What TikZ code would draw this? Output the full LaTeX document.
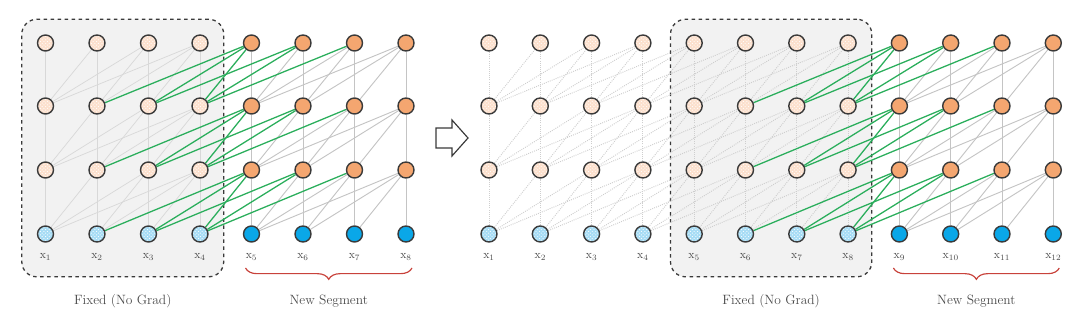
\documentclass[tikz,border=0pt]{standalone}
\usetikzlibrary{backgrounds,fit,positioning,calc,patterns,decorations.pathreplacing}
\definecolor{memfill}{HTML}{FCE0CD}
\definecolor{hidfill}{HTML}{F4A670}
\definecolor{oldtokfill}{HTML}{A6DCF5}
\definecolor{tokfill}{HTML}{0AA7E8}
\definecolor{nodeline}{HTML}{3A3A3A}
\definecolor{gradgreen}{HTML}{2BAE5C}
\definecolor{linkgray}{HTML}{C4C4C4}
\definecolor{fixedgray}{HTML}{D8D8D8}
\definecolor{pastgray}{HTML}{CECECE}
\definecolor{boxfill}{HTML}{F2F2F2}
\definecolor{bracered}{HTML}{C8423B}
\definecolor{labelgray}{HTML}{4A4A4A}
\pgfdeclarelayer{boxes}
\pgfdeclarelayer{edges}
\pgfsetlayers{boxes,edges,main}
\tikzset{
  unit/.style={circle, draw=nodeline, line width=1.2pt, minimum size=4.8mm, inner sep=0pt},
  hid/.style={unit, fill=hidfill},
  mem/.style={unit, preaction={fill=memfill}, pattern=crosshatch dots, pattern color=white},
  tok/.style={unit, fill=tokfill},
  oldtok/.style={unit, preaction={fill=oldtokfill}, pattern=crosshatch dots, pattern color=white},
  tokenlabel/.style={inner sep=1pt, text=labelgray, font=\normalsize},
  caption/.style={inner sep=0pt, text=labelgray, font=\fontsize{11.5}{13}\selectfont},
  link/.style={draw=linkgray, line width=0.8pt},
  fixedlink/.style={draw=fixedgray, line width=0.6pt},
  pastlink/.style={draw=pastgray, line width=0.8pt, densely dotted},
  gradlink/.style={draw=gradgreen, line width=1.1pt},
  segbox/.style={draw=nodeline, fill=boxfill, line width=1.1pt, dashed, rounded corners=4.5mm, inner sep=4.5mm},
  brace/.style={draw=bracered, line width=1pt, decorate, decoration={brace, mirror, amplitude=3.4mm}},
  shiftarrow/.style={draw=nodeline, fill=white, line width=1pt, line join=miter}
}

\begin{document}
\begin{tikzpicture}[x=0.3mm, y=0.3mm]
  \useasboundingbox (0,0) rectangle (1080,321);

  % left panel: first step, x1..x4 cached
  \foreach \c in {1,...,8} {
    \pgfmathsetmacro\px{45.5+(\c-1)*51.5}
    \ifnum\c<5 \def\hs{mem}\def\ts{oldtok}\else \def\hs{hid}\def\ts{tok}\fi
    \node[\ts] (L-0-\c) at (\px,87) {};
    \foreach \r/\py in {1/151,2/215,3/278}
      \node[\hs] (L-\r-\c) at (\px,\py) {};
    \node[tokenlabel] (Lx-\c) at (\px,64) {x$_{\c}$};
  }

  % right panel: next step, x5..x8 cached
  \foreach \c in {1,...,12} {
    \pgfmathsetmacro\px{489+(\c-1)*51.3}
    \ifnum\c<9 \def\hs{mem}\def\ts{oldtok}\else \def\hs{hid}\def\ts{tok}\fi
    \node[\ts] (R-0-\c) at (\px,87) {};
    \foreach \r/\py in {1/151,2/215,3/278}
      \node[\hs] (R-\r-\c) at (\px,\py) {};
    \node[tokenlabel] (Rx-\c) at (\px,64) {x$_{\c}$};
  }

  \begin{pgfonlayer}{edges}
    % left panel links
    \foreach \r in {1,2,3} {
      \pgfmathtruncatemacro\q{\r-1}
      \foreach \c in {1,...,8} {
        \foreach \d in {0,...,3} {
          \pgfmathtruncatemacro\j{\c-\d}
          \ifnum\j>0
            \ifnum\c<5
              \draw[fixedlink] (L-\q-\j) -- (L-\r-\c);
            \else\ifnum\j>4
              \draw[link] (L-\q-\j) -- (L-\r-\c);
            \fi\fi
          \fi
        }
      }
    }
    % right panel links
    \foreach \r in {1,2,3} {
      \pgfmathtruncatemacro\q{\r-1}
      \foreach \c in {1,...,12} {
        \foreach \d in {0,...,3} {
          \pgfmathtruncatemacro\j{\c-\d}
          \ifnum\j>0
            \ifnum\c<9
              \draw[pastlink] (R-\q-\j) -- (R-\r-\c);
            \else\ifnum\j>8
              \draw[link] (R-\q-\j) -- (R-\r-\c);
            \fi\fi
          \fi
        }
      }
    }
    % links from the cached segment (green)
    \foreach \r in {1,2,3} {
      \pgfmathtruncatemacro\q{\r-1}
      \foreach \c/\j in {5/2,5/3,5/4,6/3,6/4,7/4}
        \draw[gradlink] (L-\q-\j) -- (L-\r-\c);
      \foreach \c/\j in {9/6,9/7,9/8,10/7,10/8,11/8}
        \draw[gradlink] (R-\q-\j) -- (R-\r-\c);
    }
  \end{pgfonlayer}

  \begin{pgfonlayer}{boxes}
    \node[segbox, fit=(L-3-1)(L-0-4)(Lx-1)(Lx-4)] (Lbox) {};
    \node[segbox, fit=(R-3-5)(R-0-8)(Rx-5)(Rx-8)] (Rbox) {};
  \end{pgfonlayer}

  \draw[brace] ([shift={(-6,-34)}]L-0-5.center) -- ([shift={(6,-34)}]L-0-8.center);
  \draw[brace] ([shift={(-6,-34)}]R-0-9.center) -- ([shift={(6,-34)}]R-0-12.center);

  \coordinate (Lmid) at ($(L-0-5)!0.5!(L-0-8)$);
  \coordinate (Rmid) at ($(R-0-9)!0.5!(R-0-12)$);
  \node[caption] (Lfixed) at ([yshift=-7.2mm]Lbox.south) {Fixed (No Grad)};
  \node[caption] (Lnew) at (Lmid |- Lfixed) {New Segment};
  \node[caption] (Rfixed) at ([yshift=-7.2mm]Rbox.south) {Fixed (No Grad)};
  \node[caption] (Rnew) at (Rmid |- Rfixed) {New Segment};

  % step arrow
  \draw[shiftarrow] (436,193) -- (452,193) -- (452,201) -- (468,183)
    -- (452,165) -- (452,173) -- (436,173) -- cycle;
\end{tikzpicture}
\end{document}
